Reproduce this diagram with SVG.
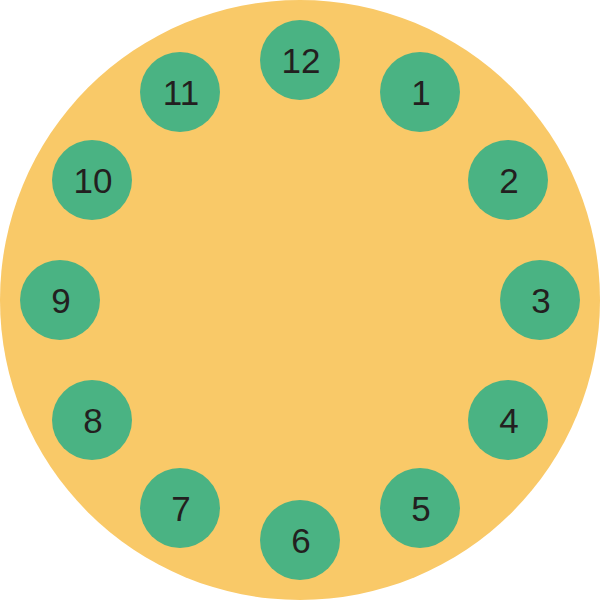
<svg xmlns="http://www.w3.org/2000/svg" width="600" height="600" viewBox="0 0 600 600">
<style>
.dial{fill:#F9C968}
.n circle{fill:#4AB383}
.n text{font-family:"Liberation Sans",Arial,sans-serif;font-size:35px;fill:#231F20;text-anchor:middle}
</style>
<rect width="600" height="600" fill="#FFFFFF"/>
<circle class="dial" cx="300" cy="300" r="300"/>
<g id="n12" class="n"><circle cx="300" cy="60" r="40"/><text x="301" y="72.5">12</text></g>
<g id="n1" class="n"><circle cx="420" cy="92" r="40"/><text x="421" y="104.5">1</text></g>
<g id="n2" class="n"><circle cx="508" cy="180" r="40"/><text x="509" y="192.5">2</text></g>
<g id="n3" class="n"><circle cx="540" cy="300" r="40"/><text x="541" y="312.5">3</text></g>
<g id="n4" class="n"><circle cx="508" cy="420" r="40"/><text x="509" y="432.5">4</text></g>
<g id="n5" class="n"><circle cx="420" cy="508" r="40"/><text x="421" y="520.5">5</text></g>
<g id="n6" class="n"><circle cx="300" cy="540" r="40"/><text x="301" y="552.5">6</text></g>
<g id="n7" class="n"><circle cx="180" cy="508" r="40"/><text x="181" y="520.5">7</text></g>
<g id="n8" class="n"><circle cx="92" cy="420" r="40"/><text x="93" y="432.5">8</text></g>
<g id="n9" class="n"><circle cx="60" cy="300" r="40"/><text x="61" y="312.5">9</text></g>
<g id="n10" class="n"><circle cx="92" cy="180" r="40"/><text x="93" y="192.5">10</text></g>
<g id="n11" class="n"><circle cx="180" cy="92" r="40"/><text x="181" y="104.5">11</text></g>
<g id="connectors"/>
</svg>
